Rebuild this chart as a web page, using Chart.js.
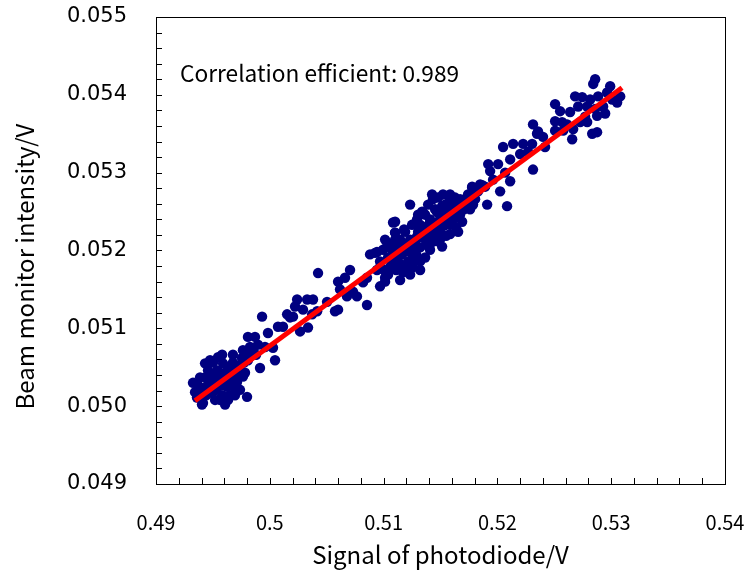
<!DOCTYPE html>
<html>
<head>
<meta charset="utf-8">
<title>Beam monitor vs photodiode</title>
<script src="https://cdn.jsdelivr.net/npm/chart.js@4.4.0/dist/chart.umd.min.js"></script>
<style>
  html, body { margin: 0; padding: 0; background: #fff; }
  #chart { display: block; }
</style>
</head>
<body>
<canvas id="chart" width="754" height="579"></canvas>
<script>
/* ---------------------------------------------------------------------- */
/* 測定データ (読み取り値) */
var photodiodeV = [
  0.49932, 0.49984, 0.50072, 0.50152, 0.50204, 0.49808, 0.49870, 0.49764, 0.49826, 0.49896,
  0.49958, 0.50028, 0.49676, 0.49581, 0.49501, 0.49431, 0.49589, 0.49676, 0.49756, 0.49457,
  0.49537, 0.49625, 0.49694, 0.49782, 0.49914, 0.50046, 0.49325, 0.49431, 0.49501, 0.49581,
  0.49676, 0.49764, 0.49440, 0.49537, 0.49625, 0.49694, 0.49712, 0.49493, 0.49581, 0.49650,
  0.49694, 0.49413, 0.49563, 0.49607, 0.49800, 0.49387, 0.49343, 0.49369, 0.49387, 0.49413,
  0.49440, 0.49475, 0.49493, 0.49519, 0.49545, 0.49563, 0.49598, 0.49616, 0.49633, 0.49650,
  0.49668, 0.49703, 0.49721, 0.49738, 0.49773, 0.49808, 0.49826, 0.49852, 0.49879, 0.49360,
  0.49404, 0.49519, 0.49633, 0.49738, 0.49475, 0.49545,
  0.50424, 0.50240, 0.50328, 0.50380, 0.50292, 0.50178, 0.50222, 0.50372, 0.50416, 0.50116,
  0.50336, 0.50266, 0.50573, 0.50600, 0.50617, 0.50600, 0.50661, 0.50705, 0.50731, 0.50766,
  0.50678, 0.50819, 0.50854, 0.50854, 0.50881, 0.50942, 0.50969, 0.50969, 0.51013, 0.51030,
  0.51074, 0.51083, 0.51101, 0.51083, 0.50503,
  0.51426, 0.51584, 0.51778, 0.51786, 0.51233, 0.51101, 0.51189, 0.51101, 0.50925, 0.50995,
  0.50942, 0.51013, 0.51171, 0.51321, 0.51514, 0.51655, 0.51610, 0.51514, 0.51347, 0.51294,
  0.51408, 0.51294, 0.51207, 0.51119, 0.51259, 0.51391, 0.51470, 0.51558, 0.51470, 0.51057,
  0.51145, 0.51233,
  0.50969, 0.51004, 0.51039, 0.51074, 0.51110, 0.51127, 0.51162, 0.51189, 0.51215, 0.51233,
  0.51250, 0.51277, 0.51303, 0.51321, 0.51338, 0.51356, 0.51373, 0.51391, 0.51408, 0.51426,
  0.51443, 0.51461, 0.51478, 0.51496, 0.51514, 0.51531, 0.51549, 0.51566, 0.51584, 0.51602,
  0.51619, 0.51637, 0.51655, 0.51672, 0.51690, 0.51707, 0.51145, 0.51180, 0.51215, 0.51250,
  0.51286, 0.51321, 0.51365, 0.51408, 0.51452, 0.51496, 0.51540, 0.51584, 0.51628, 0.51039,
  0.51074, 0.51110, 0.51145, 0.51189, 0.51233, 0.51277, 0.51321, 0.51365, 0.51408, 0.51452,
  0.51540, 0.51584, 0.51628, 0.51672, 0.51716, 0.51742, 0.51760, 0.51804, 0.51830, 0.51866,
  0.51013, 0.51057, 0.51101, 0.51250, 0.51303, 0.51338, 0.51391, 0.51434, 0.51478, 0.51522,
  0.52313, 0.52348, 0.52050, 0.52138, 0.52226, 0.52305, 0.52200, 0.52270, 0.52112, 0.52313,
  0.51919, 0.52006, 0.51936, 0.52068, 0.51962, 0.52112, 0.51778, 0.51848, 0.51892, 0.52024,
  0.51786, 0.51628, 0.51760, 0.51910, 0.52085, 0.51522, 0.51584,
  0.52859, 0.52842, 0.52991, 0.53079, 0.53052, 0.52683, 0.52745, 0.52815, 0.52885, 0.52964,
  0.52507, 0.52551, 0.52639, 0.52710, 0.52789, 0.52859, 0.52929, 0.52876, 0.52947, 0.52771,
  0.52727, 0.52507, 0.52569, 0.52613, 0.52789, 0.52833, 0.52876, 0.52657, 0.52401, 0.52507,
  0.52578, 0.52666, 0.52419, 0.52357, 0.53009
];
var beamMonitorV = [
  0.05115, 0.05094, 0.05102, 0.05118, 0.05115, 0.05089, 0.05089, 0.05072, 0.05076, 0.05079,
  0.05076, 0.05075, 0.05066, 0.05066, 0.05056, 0.05055, 0.05055, 0.05056, 0.05062, 0.05046,
  0.05046, 0.05043, 0.05046, 0.05043, 0.05049, 0.05059, 0.05030, 0.05037, 0.05034, 0.05037,
  0.05034, 0.05038, 0.05025, 0.05023, 0.05025, 0.05023, 0.05031, 0.05017, 0.05014, 0.05014,
  0.05014, 0.05004, 0.05008, 0.05002, 0.05012, 0.05012, 0.05018, 0.05027, 0.05037, 0.05021,
  0.05014, 0.05027, 0.05040, 0.05021, 0.05031, 0.05043, 0.05027, 0.05037, 0.05049, 0.05027,
  0.05040, 0.05049, 0.05040, 0.05053, 0.05056, 0.05059, 0.05066, 0.05072, 0.05066, 0.05011,
  0.05002, 0.05008, 0.05008, 0.05021, 0.05059, 0.05063,
  0.05171, 0.05137, 0.05137, 0.05137, 0.05124, 0.05114, 0.05128, 0.05118, 0.05122, 0.05102,
  0.05101, 0.05096, 0.05122, 0.05124, 0.05150, 0.05160, 0.05165, 0.05175, 0.05147, 0.05141,
  0.05141, 0.05159, 0.05130, 0.05165, 0.05195, 0.05198, 0.05179, 0.05154, 0.05165, 0.05205,
  0.05192, 0.05179, 0.05223, 0.05236, 0.05134,
  0.05272, 0.05272, 0.05281, 0.05259, 0.05259, 0.05237, 0.05224, 0.05223, 0.05197, 0.05201,
  0.05175, 0.05160, 0.05172, 0.05186, 0.05205, 0.05224, 0.05240, 0.05257, 0.05249, 0.05240,
  0.05236, 0.05218, 0.05205, 0.05192, 0.05192, 0.05214, 0.05227, 0.05244, 0.05249, 0.05179,
  0.05182, 0.05186,
  0.05186, 0.05175, 0.05191, 0.05186, 0.05204, 0.05186, 0.05195, 0.05208, 0.05199, 0.05214,
  0.05201, 0.05212, 0.05224, 0.05204, 0.05217, 0.05230, 0.05208, 0.05224, 0.05240, 0.05219,
  0.05232, 0.05212, 0.05237, 0.05224, 0.05246, 0.05232, 0.05219, 0.05250, 0.05233, 0.05255,
  0.05242, 0.05230, 0.05259, 0.05246, 0.05237, 0.05253, 0.05214, 0.05227, 0.05186, 0.05178,
  0.05195, 0.05233, 0.05246, 0.05208, 0.05253, 0.05214, 0.05259, 0.05221, 0.05250, 0.05169,
  0.05201, 0.05175, 0.05162, 0.05178, 0.05169, 0.05186, 0.05175, 0.05191, 0.05201, 0.05224,
  0.05242, 0.05266, 0.05268, 0.05266, 0.05266, 0.05272, 0.05253, 0.05266, 0.05276, 0.05284,
  0.05214, 0.05208, 0.05214, 0.05233, 0.05246, 0.05250, 0.05259, 0.05266, 0.05268, 0.05272,
  0.05362, 0.05350, 0.05333, 0.05337, 0.05337, 0.05337, 0.05324, 0.05327, 0.05317, 0.05304,
  0.05311, 0.05311, 0.05302, 0.05300, 0.05291, 0.05289, 0.05282, 0.05285, 0.05282, 0.05276,
  0.05276, 0.05263, 0.05257, 0.05259, 0.05257, 0.05257, 0.05249,
  0.05420, 0.05414, 0.05411, 0.05398, 0.05390, 0.05398, 0.05397, 0.05394, 0.05398, 0.05403,
  0.05388, 0.05379, 0.05378, 0.05385, 0.05385, 0.05382, 0.05385, 0.05373, 0.05376, 0.05372,
  0.05365, 0.05366, 0.05365, 0.05362, 0.05365, 0.05350, 0.05352, 0.05343, 0.05346, 0.05354,
  0.05354, 0.05356, 0.05333, 0.05353, 0.05394
];

/* 近似直線の両端 */
var fitX = [0.49343, 0.53095];
var fitY = [0.05007, 0.05409];

/* 軸の範囲・目盛 */
var xTicks = [0.49, 0.50, 0.51, 0.52, 0.53, 0.54];
var yTicks = [0.049, 0.050, 0.051, 0.052, 0.053, 0.054, 0.055];
var yTitle = 'Beam monitor intensity/V';
var annotationText = 'Correlation efficient: 0.989';
var annotationAt = [0.49211, 0.05427];

/* ---------------------------------------------------------------------- */
var points = photodiodeV.map((x, i) => ({ x: x, y: beamMonitorV[i] }));
var fitLine = fitX.map((x, i) => ({ x: x, y: fitY[i] }));

/* 枠線・内向きの目盛・注記・縦軸タイトル */
var frameAndTicks = {
  id: 'frameAndTicks',
  afterDraw(chart) {
    var ctx = chart.ctx;
    var area = chart.chartArea;
    var sx = chart.scales.x, sy = chart.scales.y;
    ctx.save();
    ctx.strokeStyle = '#000';
    ctx.lineWidth = 1;
    ctx.strokeRect(Math.round(area.left) + 0.5, Math.round(area.top) + 0.5,
                   Math.round(area.right - area.left), Math.round(area.bottom - area.top));
    ctx.beginPath();
    for (var i = 1; i < 25; i++) {
      var px = Math.round(sx.getPixelForValue(xTicks[0] + i * 0.002)) + 0.5;
      ctx.moveTo(px, area.bottom);
      ctx.lineTo(px, area.bottom - 6);
    }
    for (var j = 1; j < 30; j++) {
      var py = Math.round(sy.getPixelForValue(yTicks[0] + j * 0.0002)) + 0.5;
      ctx.moveTo(area.left, py);
      ctx.lineTo(area.left + 6, py);
    }
    ctx.stroke();

    ctx.fillStyle = '#000';
    ctx.font = '22.7px "Noto Sans CJK JP", sans-serif';
    ctx.textBaseline = 'middle';
    ctx.textAlign = 'left';
    ctx.fillText(annotationText, sx.getPixelForValue(annotationAt[0]), sy.getPixelForValue(annotationAt[1]));

    // 縦軸タイトル (少し下寄せ)
    ctx.font = '24px "Noto Sans CJK JP", sans-serif';
    ctx.textAlign = 'center';
    ctx.translate(25, (area.top + area.bottom) / 2 + 16);
    ctx.rotate(-Math.PI / 2);
    ctx.fillText(yTitle, 0, 0);
    ctx.restore();
  }
};

new Chart(document.getElementById('chart'), {
  type: 'scatter',
  data: {
    datasets: [
      {
        label: 'fit',
        data: fitLine,
        showLine: true,
        borderColor: '#FF0000',
        borderWidth: 5,
        pointRadius: 0,
        order: 0
      },
      {
        label: 'data',
        data: points,
        backgroundColor: '#000080',
        borderWidth: 0,
        pointRadius: 5.2,
        order: 1
      }
    ]
  },
  options: {
    responsive: false,
    animation: false,
    devicePixelRatio: 1,
    events: [],
    layout: { padding: { top: 17, right: 29, left: 0, bottom: 0 } },
    plugins: { legend: { display: false }, tooltip: { enabled: false } },
    scales: {
      x: {
        type: 'linear',
        min: 0.49,
        max: 0.54,
        afterFit: (scale) => { scale.height = 95; scale.paddingLeft = 0; scale.paddingRight = 0; },
        afterBuildTicks: (scale) => { scale.ticks = xTicks.map(v => ({ value: v })); },
        grid: { display: false, drawTicks: false },
        border: { display: false },
        ticks: {
          color: '#000',
          padding: 26,
          maxRotation: 0,
          autoSkip: false,
          font: { family: '"Noto Sans CJK JP", sans-serif', size: 20 },
          callback: (v) => parseFloat(v.toFixed(2)).toString()
        },
        title: {
          display: true,
          text: 'Signal of photodiode/V',
          color: '#000',
          font: { family: '"Noto Sans CJK JP", sans-serif', size: 24 },
          padding: { top: 0, bottom: 10 }
        }
      },
      y: {
        type: 'linear',
        min: 0.049,
        max: 0.055,
        afterFit: (scale) => { scale.width = 156; scale.paddingTop = 0; scale.paddingBottom = 0; },
        afterBuildTicks: (scale) => { scale.ticks = yTicks.map(v => ({ value: v })); },
        grid: { display: false, drawTicks: false },
        border: { display: false },
        ticks: {
          color: '#000',
          padding: 29,
          autoSkip: false,
          font: { family: '"DejaVu Sans", sans-serif', size: 21 },
          callback: (v) => v.toFixed(3)
        },
        title: { display: false }
      }
    }
  },
  plugins: [frameAndTicks]
});
</script>
</body>
</html>
